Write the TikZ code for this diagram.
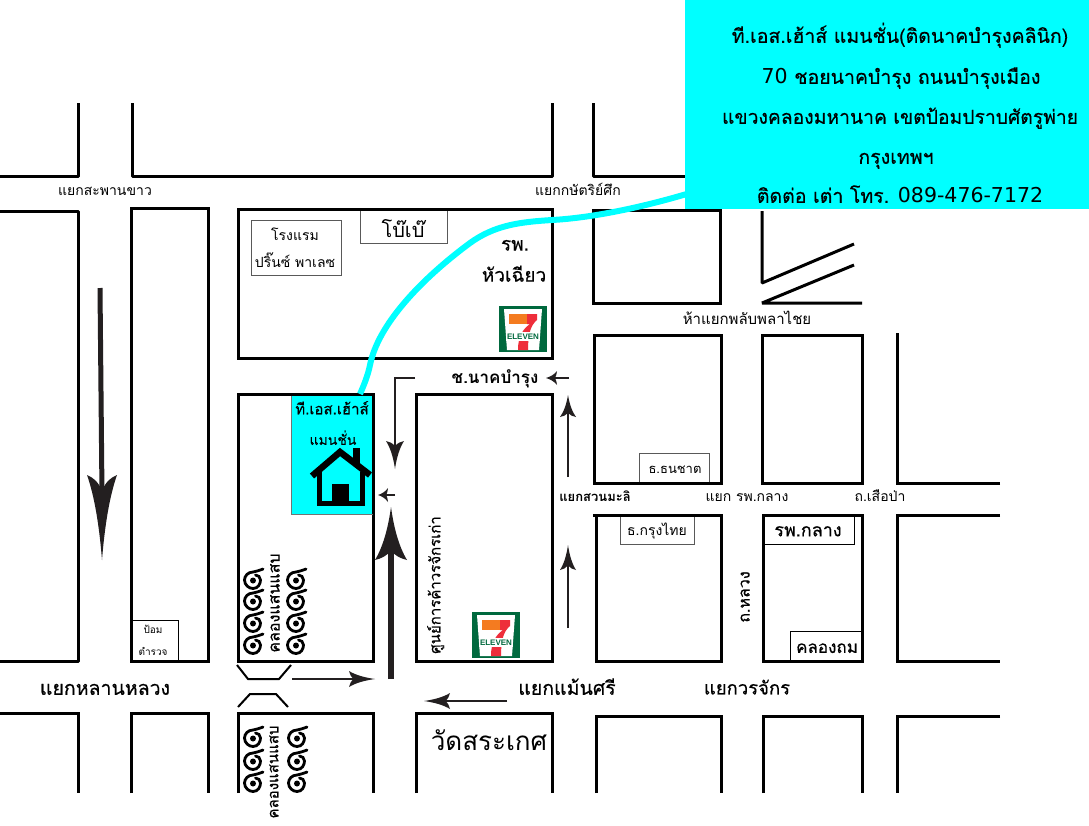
\documentclass[tikz,border=0pt]{standalone}
\usepackage{fontspec}
\newfontfamily\thaifont[Script=Thai]{Loma}
\newfontfamily\thaimed[Script=Thai,FakeBold=0.45]{Loma}
\newfontfamily\logofont{Liberation Sans}
\newfontfamily\digitfont{DejaVu Sans}
\definecolor{aq}{HTML}{00FFFF}
\definecolor{ink}{HTML}{231F20}
\definecolor{sevgreen}{HTML}{00693E}
\definecolor{sevorange}{HTML}{F47B20}
\definecolor{sevred}{HTML}{EE2E3B}
\tikzset{
  block/.style={line width=3pt,line join=bevel,line cap=butt,draw=black},
  thin box/.style={draw=black!65,line width=.9pt,fill=white},
  fs/.code={\pgfmathsetmacro\myh{0.7*#1}\tikzset{inner sep=0pt,text depth=0pt,text height=\myh pt,font=\thaifont\fontsize{#1}{#1}\selectfont}},
  fm/.code={\pgfmathsetmacro\myh{0.7*#1}\tikzset{inner sep=0pt,text depth=0pt,text height=\myh pt,font=\thaimed\fontsize{#1}{#1}\selectfont}},
  fb/.code={\pgfmathsetmacro\myh{0.7*#1}\tikzset{inner sep=0pt,text depth=0pt,text height=\myh pt,font=\thaifont\bfseries\fontsize{#1}{#1}\selectfont}},
  shaft/.style={draw=ink,line cap=butt},
  barb/.pic={\fill[ink] (0,0) .. controls (-.4,.18) and (-.75,.5) .. (-1,1) .. controls (-.97,.6) and (-.93,.3) .. (-.82,0) .. controls (-.93,-.3) and (-.97,-.6) .. (-1,-1) .. controls (-.75,-.5) and (-.4,-.18) .. (0,0) -- cycle;},
  swirl/.pic={\draw[black,line width=2.8pt,line cap=round] (10,-11) .. controls (6,-9.5) and (3,-8.5) .. (0,-8) .. controls (-5,-8) and (-8.5,-4) .. (-8.5,0) .. controls (-8.5,5) and (-4,8.5) .. (0,8.5) .. controls (5,8.5) and (7.5,4) .. (7.5,0) .. controls (7.5,-3) and (5,-5) .. (2.5,-5);
    \fill[black] (0,.5) circle (3);},
  seven/.pic={
    \fill[sevgreen] (0,0) rectangle (48,46);
    \fill[white] (5,3) -- (43,3) -- (40,44) -- (8,44) -- cycle;
    \fill[sevorange] (10,8) rectangle (30,18);
    \fill[sevred] (28,8) -- (38,8) -- (38,14) .. controls (32,19) and (29,27) .. (29,44) -- (19,44) .. controls (19,30) and (24,23) .. (31,18) -- (28,18) -- cycle;
    \fill[white] (7,26) rectangle (41,35);
    \node[inner sep=0pt,text=sevgreen,font=\logofont\bfseries\fontsize{8}{8}\selectfont] (sevtext) at (24,30.5) {ELEVEN};
  }
}
\begin{document}
\begin{tikzpicture}[x=1pt,y=-1pt]
\useasboundingbox (0,0) rectangle (1089,825);
\fill[white] (0,0) rectangle (1089,825);
% top row
\draw[block] (0,176) -- (78,176) -- (78,103);
\draw[block] (132,103) -- (132,176) -- (552,176) -- (552,103);
\draw[block] (593,103) -- (593,176) -- (690,176);
% second row
\draw[block] (0,211) -- (78,211) -- (78,661) -- (0,661);
\draw[block,line join=miter] (131,208) rectangle (208,661);
\draw[block,line join=miter] (238,209) rectangle (552,358);
\draw[block,line join=miter] (593,210) rectangle (720,303);
\draw[block] (762,211) -- (762,283) -- (854,244);
\draw[block] (854,265) -- (762,303) -- (862,303);
% third row
\draw[block,line join=miter] (594,335) rectangle (721,483);
\draw[block,line join=miter] (762,335) rectangle (862,483);
\draw[block,line join=miter] (1000,483) -- (897,483) -- (897,333);
\draw[block,line join=miter] (238,394) rectangle (373,661);
\draw[block,line join=miter] (416,394) rectangle (552,661);
\draw[block,line join=miter] (596,515) rectangle (721,661);
\draw[block,line join=miter] (763,515) rectangle (862,661);
\draw[block,line join=miter] (1000,515) -- (897,515) -- (897,661) -- (1000,661);
% bottom row
\draw[block,line join=miter] (0,713) -- (78,713) -- (78,793);
\draw[block,line join=miter] (131,793) -- (131,713) -- (208,713) -- (208,793);
\draw[block,line join=miter] (238,793) -- (238,713) -- (373,713) -- (373,793);
\draw[block,line join=miter] (416,793) -- (416,713) -- (552,713) -- (552,793);
\draw[block,line join=miter] (596,793) -- (596,716) -- (721,716) -- (721,793);
\draw[block,line join=miter] (763,793) -- (763,716) -- (862,716) -- (862,793);
\draw[block,line join=miter] (1000,716) -- (897,716) -- (897,793);
% bridge
\draw[line width=2pt,black] (237,665) -- (248,679) -- (279,679) -- (291,665);
\draw[line width=2pt,black] (238,707) -- (250,694) -- (276,694) -- (288,707);
% home
\fill[aq] (291,394) rectangle (373,514);
\draw[black!55,line width=.7pt] (291,394) -- (291,514) -- (373,514);
\draw[block,line join=miter] (291,394) -- (373,394) -- (373,514);
% cyan route
\coordinate (routeA) at (690,193);
\coordinate (routeB) at (360,394);
\draw[aq,line width=6pt] (routeA) .. controls (640,208) and (590,218) .. (552,220) .. controls (520,222) and (495,225) .. (470,243) .. controls (420,280) and (378,325) .. (370,365) .. controls (368,375) and (364,385) .. (routeB);
% info box
\node[fill=aq,minimum width=404pt,minimum height=209pt,inner sep=0pt,anchor=north west] (info) at (685,0) {};
\node[fm=19.5] (i1) at (900,36) {ที.เอส.เฮ้าส์ แมนชั่น(ติดนาคบำรุงคลินิก)};
\node[fm=19.5] (i2) at (901,77) {{\digitfont\fontsize{20.5}{20.5}\selectfont 70} ชอยนาคบำรุง ถนนบำรุงเมือง};
\node[fm=19.3] (i3) at (900,117) {แขวงคลองมหานาค เขตป้อมปราบศัตรูพ่าย};
\node[fm=19.5] (i4) at (896,157) {กรุงเทพฯ};
\node[fm=19.5] (i5) at (900,196) {ติดต่อ เต่า โทร. {\digitfont\fontsize{20.5}{20.5}\selectfont 089-476-7172}};
% thin boxes
\node[thin box,minimum width=90pt,minimum height=55pt,inner sep=0pt] (hotelbox) at (296,247.5) {};
\node[thin box,minimum width=87pt,minimum height=34pt,inner sep=0pt] (bobox) at (403.5,226) {};
\node[thin box,minimum width=70pt,minimum height=30pt,inner sep=0pt] (tnbox) at (674,468) {};
\node[thin box,minimum width=74pt,minimum height=29pt,inner sep=0pt] (ktbox) at (657,530) {};
\node[draw=black,fill=white,line width=1pt,minimum width=90pt,minimum height=29pt,inner sep=0pt] (rpbox) at (809,530) {};
\node[draw=black,fill=white,line width=1pt,minimum width=72pt,minimum height=30pt,inner sep=0pt] (kbox) at (826,646) {};
\node[draw=black,fill=white,line width=.8pt,minimum width=46pt,minimum height=41pt,inner sep=0pt] (pbox) at (155,640.5) {};
\draw[block] (593,515) -- (721,515);
\draw[block] (763,515) -- (862,515) -- (862,661) -- (790,661);
\draw[block] (238,209) -- (552,209);
\draw[block] (639,483) -- (721,483);
\draw[block] (131,661) -- (208,661);
% labels
\node[fs=14] (l1) at (105,191) {แยกสะพานขาว};
\node[fs=14] (l2) at (578,191) {แยกกษัตริย์ศึก};
\node[fs=14] (l3) at (295,236) {โรงแรม};
\node[fs=14] (l4) at (295,263) {ปริ๊นซ์ พาเลซ};
\node[fs=20] (l5) at (403,230) {โบ๊เบ๊};
\node[fm=19] (l6) at (515,244) {รพ.};
\node[fm=19] (l7) at (514,275) {หัวเฉียว};
\node[fs=15] (l8) at (747,319) {ห้าแยกพลับพลาไชย};
\node[fb=17] (l9) at (495,378) {ช.นาคบำรุง};
\node[fs=13] (l10) at (675,469) {ธ.ธนชาต};
\node[fb=13] (l11) at (595,497) {แยกสวนมะลิ};
\node[fs=14] (l12) at (747,497) {แยก รพ.กลาง};
\node[fs=14] (l13) at (880,497) {ถ.เสือป่า};
\node[fs=14] (l14) at (657,531) {ธ.กรุงไทย};
\node[fm=18] (l15) at (808,530) {รพ.กลาง};
\node[fm=16,rotate=90] (l16) at (744,597) {ถ.หลวง};
\node[fm=17] (l17) at (827,647) {คลองถม};
\node[fs=10] (l18) at (153,630) {ป้อม};
\node[fs=10] (l19) at (153,652) {ตำรวจ};
\node[fm=19.5] (l20) at (105,688) {แยกหลานหลวง};
\node[fm=19.5] (l21) at (567,688) {แยกแม้นศรี};
\node[fm=18.5] (l22) at (747,688) {แยกวรจักร};
\node[fs=26] (l23) at (489,741) {วัดสระเกศ};
\node[fm=15,rotate=90] (l24) at (435,585) {ศูนย์การค้าวรจักรเก่า};
\node[fm=16,rotate=90] (l25) at (274,603) {คลองแสนแสบ};
\node[fm=15,rotate=90] (l26) at (273,772) {คลองแสนแสบ};
\node[fm=15] (l27) at (332,409) {ที.เอส.เฮ้าส์};
\node[fm=14] (l28) at (333,440) {แมนชั่น};
% house
\draw[black,line width=6.5pt,line join=miter] (312,476) -- (340,452) -- (370,475);
\fill[black] (353,448) rectangle (360,465);
\draw[black,line width=5pt] (319.5,472) -- (319.5,503) -- (362.5,503) -- (362.5,472);
\fill[black] (332,484) rectangle (349,505);
% swirls
\foreach \yy in {580,601,623,645} {\path (253,\yy) pic {swirl}; \path (296,\yy) pic {swirl};}
\foreach \yy in {738,761,783} {\path (253,\yy) pic {swirl}; \path (297,\yy) pic {swirl};}
% logos
\path (499,306) pic {seven};
\path (472,612) pic {seven};
% arrows
\coordinate (a1s) at (100,288); \coordinate (a1e) at (102,495); \coordinate (a1t) at (102,560);
\draw[shaft,line width=5pt] (a1s) -- (a1e);
\path (a1t) pic[rotate=-90,xscale=85,yscale=15] {barb};
\coordinate (a2s) at (391,679); \coordinate (a2e) at (391,550); \coordinate (a2t) at (391,507);
\draw[shaft,line width=6pt] (a2s) -- (a2e);
\path (a2t) pic[rotate=90,xscale=53,yscale=16] {barb};
\coordinate (a3s) at (415,378); \coordinate (a3m) at (395,378); \coordinate (a3e) at (395,450); \coordinate (a3t) at (395,469);
\draw[shaft,line width=2.5pt] (a3s) -- (a3m) -- (a3e);
\path (a3t) pic[rotate=-90,xscale=28,yscale=9] {barb};
\coordinate (a4s) at (395,495); \coordinate (a4e) at (382,495); \coordinate (a4t) at (378,495);
\draw[shaft,line width=2pt] (a4s) -- (a4e);
\path (a4t) pic[rotate=180,xscale=10,yscale=7] {barb};
\coordinate (a5s) at (569,378); \coordinate (a5e) at (552,378); \coordinate (a5t) at (546,378);
\draw[shaft,line width=2pt] (a5s) -- (a5e);
\path (a5t) pic[rotate=180,xscale=11,yscale=7] {barb};
\coordinate (a6s) at (568,477); \coordinate (a6e) at (568,410); \coordinate (a6t) at (568,395);
\draw[shaft,line width=2.5pt] (a6s) -- (a6e);
\path (a6t) pic[rotate=90,xscale=22,yscale=8] {barb};
\coordinate (a7s) at (568,628); \coordinate (a7e) at (568,562); \coordinate (a7t) at (568,545);
\draw[shaft,line width=2.5pt] (a7s) -- (a7e);
\path (a7t) pic[rotate=90,xscale=25,yscale=8] {barb};
\coordinate (a8s) at (292,679); \coordinate (a8e) at (355,679); \coordinate (a8t) at (375,679);
\draw[shaft,line width=2pt] (a8s) -- (a8e);
\path (a8t) pic[xscale=26,yscale=8] {barb};
\coordinate (a9s) at (507,701); \coordinate (a9e) at (445,701); \coordinate (a9t) at (424,701);
\draw[shaft,line width=2pt] (a9s) -- (a9e);
\path (a9t) pic[rotate=180,xscale=26,yscale=8] {barb};
\end{tikzpicture}
\end{document}
